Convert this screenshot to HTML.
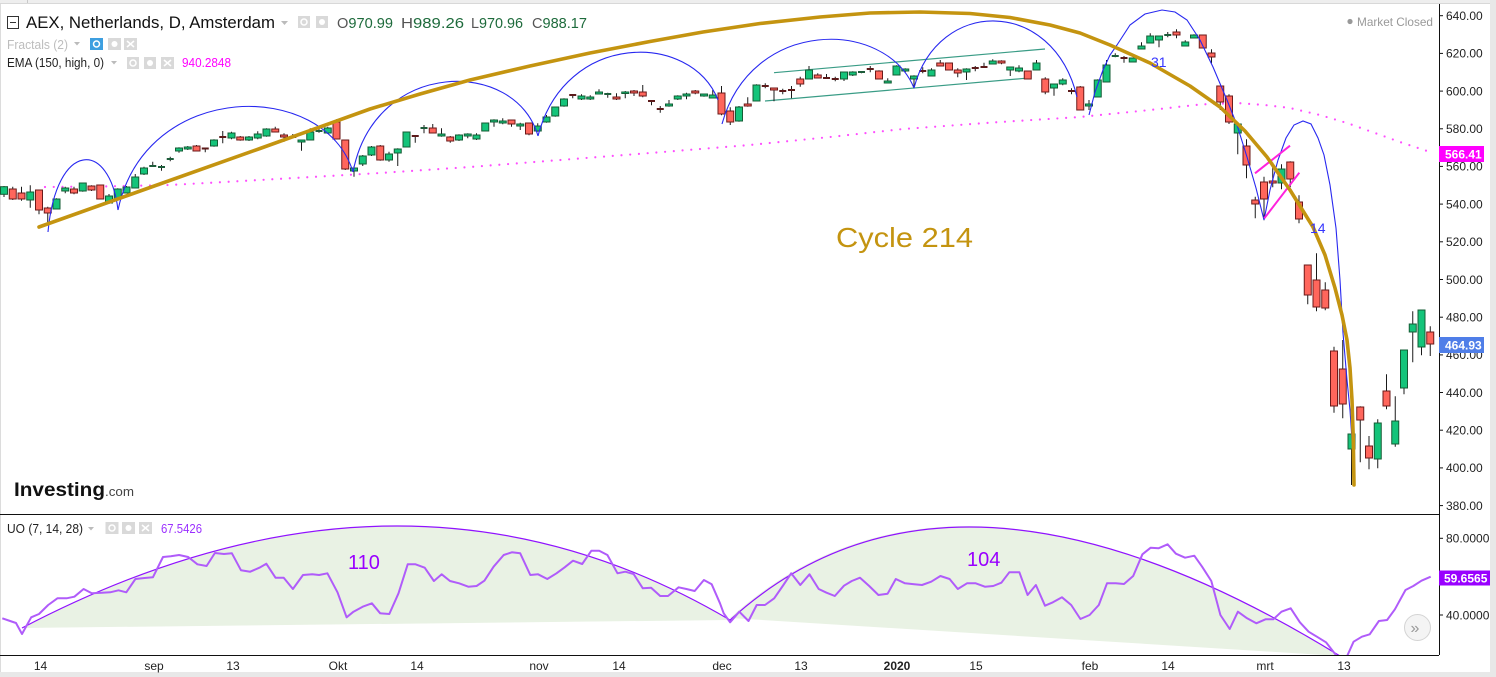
<!DOCTYPE html>
<html><head><meta charset="utf-8"><style>
html,body{margin:0;padding:0;background:#fff;}
svg{display:block;font-family:"Liberation Sans",Arial,sans-serif;}
</style></head><body>
<svg width="1496" height="677" viewBox="0 0 1496 677" xmlns="http://www.w3.org/2000/svg">
<defs>
<clipPath id="cm"><rect x="0" y="4" width="1439" height="510"/></clipPath>
<clipPath id="cu"><rect x="0" y="514" width="1439" height="141"/></clipPath>
</defs>
<rect width="1496" height="677" fill="#fff"/>
<rect x="0" y="0" width="1496" height="4" fill="#eeeeee"/>
<line x1="0" y1="3.5" x2="1496" y2="3.5" stroke="#d8d8d8"/>
<line x1="27.5" y1="0" x2="27.5" y2="3" stroke="#c8c8c8"/>
<rect x="1490" y="0" width="6" height="677" fill="#e8e8e8"/>
<rect x="0" y="672" width="1496" height="5" fill="#e8e8e8"/>
<line x1="0.5" y1="4" x2="0.5" y2="672" stroke="#dcdcdc"/>

<!-- main pane -->
<g clip-path="url(#cm)">
<polyline fill="none" stroke="#ff4dff" stroke-width="2.2" stroke-linecap="round" stroke-dasharray="0 8.75" points="45,187 100,186.5 170,185 260,180 380,173 470,167 560,160 650,153 750,145 830,137 903,129 1000,122 1080,117 1150,110 1200,104.5 1237,103 1265,105 1290,108 1320,115 1347,123 1375,133 1400,142 1433,153"/>
<line x1="774" y1="72.7" x2="1045" y2="49" stroke="#3a9c86" stroke-width="1.2"/>
<line x1="765" y1="101" x2="1025" y2="78.3" stroke="#3a9c86" stroke-width="1.2"/>
<path fill="none" stroke="#1a1a1a" stroke-width="1" d="M4 186V197M12.75 186.7V200M21.5 186.7V200.7M30.25 185.3V207.7M39 190V214.3M47.75 206.7V223.3M56.5 198.3V209M65.25 186.7V193.3M74 186.7V194.3M82.75 182.7V191.7M91.5 185.3V191M100.25 185V199.3M109 194V204M117.75 188.3V200M126.5 186V193.3M135.25 174V188.3M144 166.7V175M152.75 161.7V166.7M161.5 165V170.7M170.25 156.7V161.3M179 147.3V152.7M187.75 146V150M196.5 145V151M205.25 148V152.3M214 139.3V146.7M222.75 131V143.3M231.5 131.7V139.3M240.25 136V140.7M249 136V141M257.75 131.3V139.3M266.5 128.3V136.7M275.25 126.7V132.3M284 133.3V141.7M292.75 134V137.7M301.5 140V150.7M310.25 128.3V140M319 127.7V132.7M327.75 126.7V134M336.5 119.3V139.3M345.25 140V170M354 166V176.7M362.75 155V166M371.5 146V156M380.25 145V160.7M389 151.7V161.7M397.75 148.3V166M406.5 131.7V147.3M415.25 135.7V142.7M424 125V133.3M432.75 124V133.3M441.5 128.3V136.7M450.25 136V142.7M459 134.3V141M467.75 133.3V138.3M476.5 133.3V140M485.25 123V131.3M494 119.3V126.7M502.75 118.3V124.3M511.5 120V126.7M520.25 122.7V130M529 123V135.3M537.75 123.3V131.7M546.5 115V122.7M555.25 106.7V116.7M564 98.3V106.7M572.75 94V98.3M581.5 94.3V100M590.25 95.3V100M599 89.3V94.3M607.75 92.7V97.7M616.5 93.3V100M625.25 91V98.3M634 90V96M642.75 85V97.3M651.5 100.7V105.3M660.25 106V112.7M669 100V106.7M677.75 95.3V100M686.5 92.7V99.3M695.25 90V94.3M704 94.3V96.7M712.75 90V98.3M721.5 86V115.3M730.25 107.3V125M739 106V121.7M747.75 97.3V106.7M756.5 84.3V101.3M765.25 83.3V88.3M774 88.3V101.3M782.75 88.7V94.3M791.5 86V98.3M800.25 76.7V86.7M809 66V79.3M817.75 73.3V78.3M826.5 74V78.3M835.25 76.7V81.3M844 72.3V81M852.75 71.3V76M861.5 71.3V73.3M870.25 66V72.3M879 70.3V79.3M887.75 78.3V83.3M896.5 65.3V75.3M905.25 68.3V72.3M914 75.3V88.3M922.75 67.3V73.3M931.5 68.3V76.3M940.25 60V66.3M949 63.3V70.3M957.75 68.3V77.3M966.5 68.3V80M975.25 66V71.3M984 62.7V67.7M992.75 59.3V64.3M1001.5 60.3V64.3M1010.25 67.3V76M1019 65.3V72.3M1027.75 71.3V79.3M1036.5 60V70.3M1045.25 77.3V94.3M1054 84.3V95.7M1062.75 78.3V85.3M1071.5 88.3V94.3M1080.25 86V110.3M1089 100V110M1097.75 79.3V97.3M1106.5 60V82.3M1115.25 53.3V57.3M1124 56V62.7M1132.75 58.3V62.3M1141.5 42.3V49.3M1150.25 33.3V43.3M1159 35.7V47.3M1167.75 32V37.3M1176.5 29.3V38.3M1185.25 40.3V46.3M1194 34.3V38M1202.75 35.3V48.3M1211.5 49.3V63.3M1220.25 86.3V110M1229 94.3V124M1237.75 124.3V154.3M1246.5 139.3V178.3M1255.25 196.7V218.3M1264 176.7V220.3M1272.75 162.7V187.3M1281.5 164.3V189.3M1290.25 161.3V187.3M1299 195.3V223.3M1307.75 265.3V304.3M1316.5 253.3V311.3M1325.25 282.3V310.3M1334 346.7V412.7M1342.75 340V418.3M1351.5 426V485M1360.25 406.3V462.3M1369 436V469.3M1377.75 419.3V468.3M1386.5 374.3V409.3M1395.25 396.3V446.7M1404 350.3V394.3M1412.75 311.3V362.3M1421.5 310.3V355.3M1430.25 326.3V356"/>
<g fill="#14c47a" stroke="#145c34" stroke-width="1" transform="translate(-0.5,0)">
<rect x="1" y="186.7" width="7" height="7.6"/><rect x="27.25" y="192" width="7" height="8"/><rect x="53.5" y="199" width="7" height="10"/><rect x="62.25" y="188" width="7" height="3"/><rect x="79.75" y="183" width="7" height="8"/><rect x="106" y="196" width="7" height="7"/><rect x="114.75" y="189" width="7" height="10"/><rect x="123.5" y="187" width="7" height="6"/><rect x="132.25" y="177" width="7" height="11"/><rect x="141" y="168" width="7" height="6"/><rect x="176" y="148" width="7" height="3"/><rect x="184.75" y="147" width="7" height="2"/><rect x="211" y="140" width="7" height="6"/><rect x="228.5" y="133" width="7" height="5"/><rect x="246" y="137" width="7" height="3"/><rect x="254.75" y="134" width="7" height="4"/><rect x="263.5" y="129" width="7" height="7"/><rect x="298.5" y="140" width="7" height="2"/><rect x="307.25" y="132" width="7" height="8"/><rect x="324.75" y="128" width="7" height="5"/><rect x="351" y="168" width="7" height="3"/><rect x="359.75" y="156" width="7" height="8"/><rect x="368.5" y="147" width="7" height="8"/><rect x="386" y="154" width="7" height="6"/><rect x="394.75" y="149" width="7" height="4"/><rect x="403.5" y="132" width="7" height="15"/><rect x="438.5" y="134" width="7" height="2"/><rect x="456" y="135" width="7" height="5"/><rect x="464.75" y="134" width="7" height="2"/><rect x="473.5" y="135" width="7" height="4"/><rect x="482.25" y="123" width="7" height="8"/><rect x="491" y="120" width="7" height="2"/><rect x="499.75" y="121" width="7" height="2"/><rect x="517.25" y="124" width="7" height="2"/><rect x="534.75" y="126" width="7" height="5"/><rect x="543.5" y="117" width="7" height="5"/><rect x="552.25" y="107" width="7" height="9"/><rect x="561" y="99" width="7" height="7"/><rect x="578.5" y="96" width="7" height="3"/><rect x="587.25" y="97" width="7" height="2"/><rect x="596" y="92" width="7" height="2"/><rect x="622.25" y="92" width="7" height="1.5"/><rect x="666" y="104" width="7" height="2"/><rect x="674.75" y="96" width="7" height="3"/><rect x="683.5" y="94" width="7" height="2"/><rect x="701" y="94" width="7" height="2"/><rect x="709.75" y="95" width="7" height="3"/><rect x="736" y="107" width="7" height="14"/><rect x="753.5" y="85" width="7" height="16"/><rect x="806" y="70" width="7" height="9"/><rect x="841" y="72" width="7" height="7"/><rect x="849.75" y="72" width="7" height="3"/><rect x="884.75" y="81" width="7" height="2"/><rect x="893.5" y="66" width="7" height="9"/><rect x="902.25" y="69" width="7" height="2"/><rect x="911" y="76" width="7" height="3"/><rect x="928.5" y="70" width="7" height="6"/><rect x="963.5" y="69" width="7" height="3"/><rect x="989.75" y="61" width="7" height="3"/><rect x="1007.25" y="67" width="7" height="3"/><rect x="1016" y="68" width="7" height="3"/><rect x="1033.5" y="63" width="7" height="7"/><rect x="1051" y="84" width="7" height="4"/><rect x="1059.75" y="80" width="7" height="4"/><rect x="1086" y="104" width="7" height="2"/><rect x="1094.75" y="80" width="7" height="17"/><rect x="1103.5" y="65" width="7" height="17"/><rect x="1129.75" y="58" width="7" height="4"/><rect x="1138.5" y="46" width="7" height="3"/><rect x="1147.25" y="36" width="7" height="7"/><rect x="1156" y="36" width="7" height="4"/><rect x="1182.25" y="42" width="7" height="4"/><rect x="1191" y="35" width="7" height="3"/><rect x="1234.75" y="124" width="7" height="9"/><rect x="1278.5" y="169" width="7" height="14"/><rect x="1348.5" y="434" width="7" height="15"/><rect x="1374.75" y="423" width="7" height="36"/><rect x="1392.25" y="421" width="7" height="23"/><rect x="1401" y="350" width="7" height="38"/><rect x="1409.75" y="324" width="7" height="8"/><rect x="1418.5" y="310" width="7" height="37"/>
</g>
<g fill="#ff665c" stroke="#6b1a1a" stroke-width="1" transform="translate(-0.5,0)">
<rect x="9.75" y="189" width="7" height="10"/><rect x="18.5" y="193" width="7" height="6"/><rect x="36" y="190" width="7" height="20"/><rect x="44.75" y="208" width="7" height="5"/><rect x="71" y="189" width="7" height="4"/><rect x="88.5" y="186" width="7" height="4"/><rect x="97.25" y="185" width="7" height="14"/><rect x="193.5" y="146" width="7" height="5"/><rect x="237.25" y="137" width="7" height="3"/><rect x="272.25" y="129" width="7" height="3"/><rect x="281" y="135" width="7" height="2"/><rect x="333.5" y="122" width="7" height="17"/><rect x="342.25" y="140" width="7" height="29"/><rect x="377.25" y="146" width="7" height="14"/><rect x="429.75" y="128" width="7" height="5"/><rect x="447.25" y="137" width="7" height="4"/><rect x="508.5" y="120" width="7" height="4"/><rect x="526" y="123" width="7" height="11"/><rect x="613.5" y="97" width="7" height="2"/><rect x="631" y="91" width="7" height="2"/><rect x="639.75" y="92" width="7" height="4"/><rect x="692.25" y="91" width="7" height="2"/><rect x="718.5" y="93" width="7" height="21"/><rect x="727.25" y="111" width="7" height="11"/><rect x="744.75" y="104" width="7" height="2"/><rect x="771" y="88" width="7" height="2"/><rect x="797.25" y="79" width="7" height="5"/><rect x="814.75" y="75" width="7" height="3"/><rect x="876" y="71" width="7" height="8"/><rect x="937.25" y="63" width="7" height="3"/><rect x="946" y="63" width="7" height="7"/><rect x="954.75" y="70" width="7" height="3"/><rect x="998.5" y="61" width="7" height="2"/><rect x="1024.75" y="71" width="7" height="8"/><rect x="1042.25" y="79" width="7" height="13"/><rect x="1077.25" y="87" width="7" height="23"/><rect x="1173.5" y="32" width="7" height="3"/><rect x="1199.75" y="35" width="7" height="13"/><rect x="1208.5" y="53" width="7" height="4"/><rect x="1217.25" y="86" width="7" height="16"/><rect x="1226" y="96" width="7" height="26"/><rect x="1243.5" y="146" width="7" height="19"/><rect x="1252.25" y="200" width="7" height="4"/><rect x="1261" y="182" width="7" height="17"/><rect x="1269.75" y="181" width="7" height="2"/><rect x="1287.25" y="162" width="7" height="17"/><rect x="1296" y="202" width="7" height="17"/><rect x="1304.75" y="265" width="7" height="30"/><rect x="1313.5" y="280" width="7" height="27"/><rect x="1322.25" y="290" width="7" height="18"/><rect x="1331" y="351" width="7" height="55"/><rect x="1339.75" y="369" width="7" height="35"/><rect x="1357.25" y="407" width="7" height="13"/><rect x="1366" y="446" width="7" height="12"/><rect x="1383.5" y="391" width="7" height="15"/><rect x="1427.25" y="332" width="7" height="12"/>
</g>
<path fill="none" stroke="#1d5c3a" stroke-width="2" d="M149.25 166h7M158 167h7M166.75 159h7M315.5 131h7M420.5 128h7M604.25 94h7M858 72h7M1111.75 56h7M1164.25 35h7"/>
<path fill="none" stroke="#5c1a1a" stroke-width="2" d="M201.75 148.5h7M219.25 137h7M289.25 137h7M411.75 136h7M569.25 95h7M648 101h7M656.75 109h7M761.75 86h7M779.25 91h7M788 90h7M823 78h7M831.75 79h7M866.75 69h7M919.25 71h7M971.75 68h7M980.5 67h7M1068 91h7M1120.5 58h7"/>
<g fill="none" stroke="#2828f0" stroke-width="1.1">
<path d="M48 232C56.4 139.7 109.6 139.7 118 210"/>
<path d="M118 210C146 79 325 79 353 172"/>
<path d="M353 172C375 58 516 58 538 136"/>
<path d="M538 136C565 31.3 691 31.3 718 100"/>
<path d="M722 124C751 18 885 18 914 88"/>
<path d="M914 88C938 -2.8 1053 -2.8 1077 97"/>
<polyline points="1089,115 1095,92 1103,70 1110,55 1117,45 1130,25 1145,14 1162,10 1175,12 1187,20 1200,40 1213,67 1227,100 1237,125 1247,157 1256,188 1264,220"/>
<polyline points="1264,220 1270,190 1278,160 1286,138 1294,125 1303,121 1311,124 1318,138 1324,155 1330,185 1336,228 1340,280 1343,333 1347,380 1350,410 1353,455"/>
</g>
<line x1="1255" y1="173.3" x2="1290" y2="145.7" stroke="#ff22dd" stroke-width="2"/>
<line x1="1264.3" y1="218.3" x2="1299.3" y2="172.7" stroke="#ff22dd" stroke-width="2"/>
<polyline fill="none" stroke="#c49410" stroke-width="3.6" stroke-linejoin="round" stroke-linecap="round" points="39,227 150,187.5 260,148.5 370,109 420,94 470,80 530,66 590,53 650,41.5 703,32 760,23.5 820,17 870,13 920,12 970,13.5 1010,17.5 1050,25 1080,33 1110,45 1150,63 1190,86 1220,107 1245,131 1267,157 1290,190 1313,227 1325,255 1335,288 1342,315 1347,340 1350,368 1352,400 1353.3,440 1354,485"/>
<text x="1151" y="67" font-size="14" fill="#3535ff">31</text>
<text x="1310" y="233" font-size="14" fill="#3535ff">14</text>
<text x="836" y="247" font-size="28" fill="#c49410" textLength="137" lengthAdjust="spacingAndGlyphs">Cycle 214</text>
<text x="14" y="496" font-size="19" font-weight="bold" fill="#111" textLength="91" lengthAdjust="spacingAndGlyphs">Investing</text>
<text x="105" y="496" font-size="13" fill="#444" textLength="29" lengthAdjust="spacingAndGlyphs">.com</text>
</g>

<rect x="7.5" y="16.5" width="11" height="12" fill="none" stroke="#333"/>
<line x1="10" y1="22.5" x2="16" y2="22.5" stroke="#333"/>
<text x="26" y="28" font-size="16.5" fill="#111" textLength="249" lengthAdjust="spacingAndGlyphs">AEX, Netherlands, D, Amsterdam</text>
<polygon points="281,21 288,21 284.5,25" fill="#bbb"/>
<rect x="298" y="16" width="12" height="12" fill="#d9d9d9"/><circle cx="304" cy="22" r="3" fill="none" stroke="#fff" stroke-width="1.5"/>
<rect x="316" y="16" width="12" height="12" fill="#d9d9d9"/><circle cx="322" cy="22" r="3" fill="#fff"/>
<text x="337" y="28" font-size="15" fill="#555" textLength="56" lengthAdjust="spacingAndGlyphs">O<tspan fill="#1e6b3c">970.99</tspan></text>
<text x="401" y="28" font-size="15" fill="#555" textLength="63" lengthAdjust="spacingAndGlyphs">H<tspan fill="#1e6b3c">989.26</tspan></text>
<text x="471" y="28" font-size="15" fill="#555" textLength="52" lengthAdjust="spacingAndGlyphs">L<tspan fill="#1e6b3c">970.96</tspan></text>
<text x="532" y="28" font-size="15" fill="#555" textLength="55" lengthAdjust="spacingAndGlyphs">C<tspan fill="#1e6b3c">988.17</tspan></text>
<text x="7" y="49" font-size="12.5" fill="#bdbdbd" textLength="61" lengthAdjust="spacingAndGlyphs">Fractals (2)</text>
<polygon points="74,42 80,42 77,45.5" fill="#bbb"/>
<rect x="90" y="38" width="13" height="12" fill="#3d9fe0"/><circle cx="96.5" cy="44" r="3" fill="none" stroke="#fff" stroke-width="1.5"/>
<rect x="108" y="38" width="13" height="12" fill="#d9d9d9"/><circle cx="114.5" cy="44" r="3" fill="#fff"/>
<rect x="124" y="38" width="13" height="12" fill="#d9d9d9"/><path d="M127 41l7 6M134 41l-7 6" stroke="#fff" stroke-width="1.5"/>
<text x="7" y="67" font-size="12.5" fill="#222" textLength="97" lengthAdjust="spacingAndGlyphs">EMA (150, high, 0)</text>
<polygon points="111,61 117,61 114,64.5" fill="#bbb"/>
<rect x="127" y="57" width="12" height="12" fill="#d9d9d9"/><circle cx="133" cy="63" r="3" fill="none" stroke="#fff" stroke-width="1.5"/>
<rect x="144" y="57" width="12" height="12" fill="#d9d9d9"/><circle cx="150" cy="63" r="3" fill="#fff"/>
<rect x="161" y="57" width="13" height="12" fill="#d9d9d9"/><path d="M164 60l7 6M171 60l-7 6" stroke="#fff" stroke-width="1.5"/>
<text x="182" y="67" font-size="12.5" fill="#ff00ff" textLength="49" lengthAdjust="spacingAndGlyphs">940.2848</text>
<circle cx="1350" cy="21.5" r="2.6" fill="#999"/>
<text x="1357" y="26" font-size="12" fill="#999" textLength="76" lengthAdjust="spacingAndGlyphs">Market Closed</text>

<line x1="1439.5" y1="4" x2="1439.5" y2="655" stroke="#111"/>
<g stroke="#111">
<line x1="1439" y1="15.7" x2="1443" y2="15.7"/><line x1="1439" y1="53.4" x2="1443" y2="53.4"/><line x1="1439" y1="91.1" x2="1443" y2="91.1"/><line x1="1439" y1="128.8" x2="1443" y2="128.8"/><line x1="1439" y1="166.4" x2="1443" y2="166.4"/><line x1="1439" y1="204.1" x2="1443" y2="204.1"/><line x1="1439" y1="241.8" x2="1443" y2="241.8"/><line x1="1439" y1="279.5" x2="1443" y2="279.5"/><line x1="1439" y1="317.2" x2="1443" y2="317.2"/><line x1="1439" y1="354.9" x2="1443" y2="354.9"/><line x1="1439" y1="392.5" x2="1443" y2="392.5"/><line x1="1439" y1="430.2" x2="1443" y2="430.2"/><line x1="1439" y1="467.9" x2="1443" y2="467.9"/><line x1="1439" y1="505.6" x2="1443" y2="505.6"/>
<line x1="1439" y1="538.3" x2="1443" y2="538.3"/><line x1="1439" y1="615" x2="1443" y2="615"/>
</g>
<g font-size="12" fill="#222">
<text x="1446" y="20">640.00</text><text x="1446" y="57.7">620.00</text><text x="1446" y="95.4">600.00</text><text x="1446" y="133">580.00</text><text x="1446" y="170.7">560.00</text><text x="1446" y="208.4">540.00</text><text x="1446" y="246">520.00</text><text x="1446" y="283.8">500.00</text><text x="1446" y="321.5">480.00</text><text x="1446" y="359.2">460.00</text><text x="1446" y="396.8">440.00</text><text x="1446" y="434.5">420.00</text><text x="1446" y="472.2">400.00</text><text x="1446" y="509.9">380.00</text>
<text x="1446" y="542.6">80.0000</text><text x="1446" y="619.3">40.0000</text>
</g>
<rect x="1439" y="146" width="45" height="16" fill="#ff00ff"/>
<text x="1445" y="158.5" font-size="12" font-weight="bold" fill="#fff">566.41</text>
<rect x="1439" y="337" width="45" height="16" fill="#4f7ee8"/>
<text x="1445" y="349.5" font-size="12" font-weight="bold" fill="#fff">464.93</text>

<line x1="0" y1="514.5" x2="1439" y2="514.5" stroke="#111"/>
<line x1="0" y1="655.5" x2="1439" y2="655.5" stroke="#111"/>

<g clip-path="url(#cu)">
<path d="M22 628Q404 428 730 620Z" fill="#e9f2e4"/>
<path d="M730 618Q951.5 416.9 1340 656L730 618Z" fill="#e9f2e4"/>
<path d="M22 628Q404 428 730 620" fill="none" stroke="#9012ff" stroke-width="1.2"/>
<path d="M729 621Q951.5 416.9 1340 656" fill="none" stroke="#9012ff" stroke-width="1.2"/>
<polyline fill="none" stroke="#b05cfa" stroke-width="2" stroke-linejoin="round" points="2.3,618.3 10.1,621 16,623 22,634 31.2,617.3 39,614 48.2,605 57.4,598.3 66.6,598.3 74.4,596.7 83.6,589 91.8,593.3 101.9,592.7 110.2,592.3 118.5,590.3 126.3,592.3 135.4,579 144.6,578 152.9,577.3 163,557 170.8,556.3 179.1,555 188.2,557 197.4,564.3 206.6,566 214.9,553 224,554 231.9,553.3 241,570.3 250.2,571.7 259.4,567.7 266.3,563.7 275.5,577.7 283.7,577.7 292.9,589 303,575 312.2,574.3 319.1,575 327.4,573.3 337.5,592.3 346.6,617.3 353.5,611.7 362.7,606.7 371.9,603.3 380.2,613.3 389.3,614 398.5,593.3 407.7,564.3 415.5,564.3 424.7,567.7 433.9,581 441.7,574.3 450,581 459.1,583.3 468.3,586.7 476.6,586 484.4,580.7 493.6,566.7 503.7,555 511.9,552.3 520.2,553.3 530.3,575 538.1,574.3 547.3,579 556.5,573.3 564.7,567.3 573,560.7 582.2,564 591.4,550.7 599.2,550.7 607.4,555 617.5,573.3 625.3,571.7 633.6,574 642.8,588.3 651.1,587.7 660.2,596 668,596 678.6,587.3 686.4,589 694.7,591 703.9,580 711.7,584.3 720,603.3 723.7,613.3 730.1,622.3 739.3,611.7 748.5,621 756.7,605 765,605 774.2,598.3 783.4,585 791.2,573.3 800.3,585 809.5,574.3 818.7,589 826.5,592.7 834.8,596 844,585.7 851.8,581 860,577.7 869.2,586 878.4,595 887.6,593.7 895.8,579 905,583.3 914.2,584.3 922,585 931.2,581.7 940.4,576 949.6,579 957.8,589 967,583.3 975.7,583.3 984.9,586.7 993.2,586 1001.4,582.7 1009.3,572.3 1019.4,572.3 1027.6,595 1035.9,585 1045,605.7 1052.9,602.3 1062,597.3 1071.2,605 1080.4,619 1089.6,615 1098.8,605 1107,583.3 1115.8,583.3 1124,584 1133.2,576 1142.4,554.3 1150.7,547.7 1158.5,548.3 1167.6,544.3 1175.9,553.7 1185.1,557.7 1194.3,555.7 1202.1,566.7 1211.3,581 1220.4,615 1229.7,629 1237.9,611.7 1247.1,618.3 1256.3,623.3 1265.5,619.3 1273.3,619.3 1281.5,611.7 1290.7,608.3 1299.9,622.3 1308.6,631.7 1316.9,636.7 1326,642.3 1337.5,657 1346.7,657 1353.6,641.7 1361.9,636.7 1369.7,634.3 1378.9,621 1387.1,620 1394.9,609.3 1405.5,590 1413.3,586 1421.5,580.7 1430.7,576.7"/>
<text x="348" y="569" font-size="20" fill="#9900ff">110</text>
<text x="967" y="566" font-size="20" fill="#9900ff">104</text>
</g>
<text x="7" y="533" font-size="12.5" fill="#222" textLength="76" lengthAdjust="spacingAndGlyphs">UO (7, 14, 28)</text>
<polygon points="88,527 94,527 91,530.5" fill="#bbb"/>
<rect x="105.5" y="522" width="13" height="12" fill="#d9d9d9"/><circle cx="112" cy="528" r="3" fill="none" stroke="#fff" stroke-width="1.5"/>
<rect x="122" y="522" width="13" height="12" fill="#d9d9d9"/><circle cx="128.5" cy="528" r="3" fill="#fff"/>
<rect x="139" y="522" width="13" height="12" fill="#d9d9d9"/><path d="M142 525l7 6M149 525l-7 6" stroke="#fff" stroke-width="1.5"/>
<text x="161" y="533" font-size="12.5" fill="#9b30ff" textLength="41" lengthAdjust="spacingAndGlyphs">67.5426</text>
<rect x="1439" y="570.5" width="51" height="15" fill="#9900ff"/>
<text x="1444" y="582.5" font-size="12" font-weight="bold" fill="#fff">59.6565</text>
<circle cx="1417.5" cy="627.5" r="13" fill="#f4f4f4" stroke="#d4d4d4"/>
<text x="1410.5" y="633" font-size="16" fill="#999">»</text>

<g font-size="12" fill="#222" text-anchor="middle">
<text x="40.5" y="670">14</text><text x="154" y="670">sep</text><text x="233" y="670">13</text><text x="338" y="670">Okt</text><text x="417" y="670">14</text><text x="539" y="670">nov</text><text x="619" y="670">14</text><text x="722" y="670">dec</text><text x="801" y="670">13</text><text x="897" y="670" font-weight="bold">2020</text><text x="976" y="670">15</text><text x="1090" y="670">feb</text><text x="1168" y="670">14</text><text x="1265" y="670">mrt</text><text x="1344" y="670">13</text>
</g>
</svg>
</body></html>
